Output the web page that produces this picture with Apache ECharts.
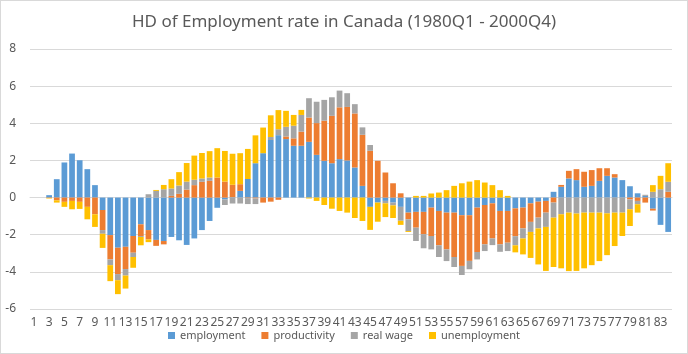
<!DOCTYPE html>
<html>
<head>
<meta charset="utf-8">
<script src="https://cdn.jsdelivr.net/npm/echarts@6/dist/echarts.min.js"></script>
<style>
  html, body { margin: 0; padding: 0; background: #fff; }
  #chart { width: 686px; height: 352px; border: 1px solid #d9d9d9; }
</style>
</head>
<body>
<div id="chart"></div>
<script>
  // quarters 1..84 (1980Q1 - 2000Q4)
  const quarters = []
  for (let i = 1; i <= 84; i++) quarters.push(String(i))

  const employment = [
    0, 0, 0.13, 0.99, 1.89, 2.37, 2.01, 1.53, 0.67, -0.67,
    -2.02, -2.7, -2.65, -2.07, -1.44, -1.75, -2.28, -2.34, -2.12, -2.3,
    -2.55, -2.2, -1.75, -1.26, -0.55, -0.1, 0.02, 0.36, 1.0, 1.85,
    2.39, 3.1, 3.36, 3.15, 2.79, 2.79, 3.0, 2.3, 1.98, 1.85,
    2.07, 2.0, 1.62, 0.63, -0.5, -0.27, -0.18, -0.27, -0.5, -0.81,
    -0.77, -0.77, -0.54, -0.72, -0.81, -0.81, -0.95, -0.95, -0.54, -0.4,
    -0.31, -0.72, -0.72, -0.58, -0.54, -0.31, -0.22, -0.18, 0.31, 0.58,
    1.03, 0.94, 0.58, 0.63, 0.9, 1.17, 1.08, 0.94, 0.61, 0.23,
    0.09, -0.6, -1.47, -1.85
  ]
  const productivity = [
    0, 0, -0.02, -0.15, -0.23, -0.18, -0.23, -0.5, -0.9, -1.08,
    -1.31, -1.42, -1.2, -0.9, -0.63, -0.5, -0.32, -0.18, 0.09, 0.2,
    0.43, 0.67, 0.85, 0.9, 1.08, 0.86, 0.67, 0.36, -0.03, -0.05,
    -0.27, -0.22, -0.12, 0.14, 0.4, 0.76, 1.31, 1.71, 2.16, 2.55,
    2.79, 2.88, 2.91, 2.75, 2.52, 1.98, 1.35, 0.77, 0.23, -0.36,
    -0.85, -1.2, -1.53, -1.85, -1.98, -2.39, -2.73, -2.46, -2.39, -2.12,
    -1.89, -1.8, -1.71, -1.5, -1.12, -1.0, -0.86, -0.63, -0.27, 0.1,
    0.41, 0.59, 0.81, 0.85, 0.68, 0.41, 0.18, 0, -0.1, -0.18,
    -0.27, -0.1, 0, 0.31
  ]
  const realWage = [
    0, 0, 0, 0, 0, 0, 0, 0, 0, -0.2,
    -0.31, -0.33, -0.35, -0.23, -0.05, 0.18, 0.36, 0.45, 0.4, 0.45,
    0.43, 0.29, 0.18, 0.18, 0, -0.3, -0.32, -0.32, -0.32, -0.3,
    0, 0.16, 0.32, 0.52, 0.68, 0.9, 1.04, 1.15, 1.12, 1.0,
    0.9, 0.74, 0.5, 0.4, 0.31, 0, -0.13, -0.15, -0.75, -0.63,
    -0.72, -0.76, -0.72, -0.63, -0.63, -0.54, -0.49, -0.45, -0.4, -0.36,
    -0.36, -0.4, -0.45, -0.49, -0.54, -0.54, -0.58, -0.77, -0.81, -0.9,
    -0.81, -0.86, -0.81, -0.81, -0.81, -0.85, -0.81, -0.81, -0.53, -0.18,
    0.06, 0.31, 0.45, 0.54
  ]
  const unemployment = [
    0, 0, -0.03, -0.12, -0.27, -0.45, -0.38, -0.67, -0.68, -0.76,
    -0.86, -0.75, -0.7, -0.58, -0.45, -0.15, 0.05, 0.23, 0.5, 0.72,
    1.0, 1.3, 1.37, 1.42, 1.58, 1.65, 1.67, 1.67, 1.62, 1.5,
    1.38, 1.17, 1.03, 0.86, 0.58, 0.27, -0.05, -0.18, -0.4, -0.6,
    -0.72, -0.81, -1.1, -1.26, -1.24, -1.03, -0.74, -0.68, -0.22, -0.05,
    0.09, 0.09, 0.22, 0.27, 0.4, 0.63, 0.77, 0.86, 0.94, 0.81,
    0.67, 0.4, 0.09, -0.38, -0.86, -1.4, -1.94, -2.37, -2.66, -2.91,
    -3.15, -3.09, -3.0, -2.83, -2.61, -2.25, -1.8, -1.26, -0.9, -0.45,
    0, 0.36, 0.72, 1.0
  ]
  const yTicks = { min: -6, max: 8, interval: 2 }

  const txt = '#595959'
  const font = 'Noto Sans'
  function bar(name, data, color) {
    return {
      name: name,
      type: 'bar',
      stack: 'hd',
      data: data,
      barCategoryGap: '25%',
      itemStyle: { color: color },
      emphasis: { disabled: true }
    }
  }

  const chart = echarts.init(document.getElementById('chart'))
  chart.setOption({
    animation: false,
    title: {
      text: 'HD of Employment rate in Canada (1980Q1 - 2000Q4)',
      left: 'center',
      top: 8,
      textStyle: { color: txt, fontFamily: font, fontSize: 17, fontWeight: 'normal' }
    },
    legend: {
      top: 324,
      left: 'center',
      itemWidth: 7,
      itemHeight: 7,
      itemGap: 16,
      icon: 'rect',
      textStyle: { color: txt, fontFamily: font, fontSize: 11 },
      data: ['employment', 'productivity', 'real wage', 'unemployment']
    },
    grid: { left: 29, right: 15, top: 48, bottom: 44, containLabel: false },
    xAxis: {
      type: 'category',
      data: quarters,
      axisLine: { onZero: true, lineStyle: { color: '#d9d9d9' } },
      axisTick: { show: false },
      axisLabel: { interval: 1, color: txt, fontFamily: font, fontSize: 12, margin: 8 }
    },
    yAxis: {
      type: 'value',
      min: yTicks.min,
      max: yTicks.max,
      interval: yTicks.interval,
      axisLine: { show: false },
      axisTick: { show: false },
      axisLabel: { color: txt, fontFamily: font, fontSize: 12, margin: 14 },
      splitLine: { lineStyle: { color: '#d9d9d9' } }
    },
    series: [
      bar('employment', employment, '#5b9bd5'),
      bar('productivity', productivity, '#ed7d31'),
      bar('real wage', realWage, '#a5a5a5'),
      bar('unemployment', unemployment, '#ffc000')
    ]
  })
</script>
</body>
</html>
